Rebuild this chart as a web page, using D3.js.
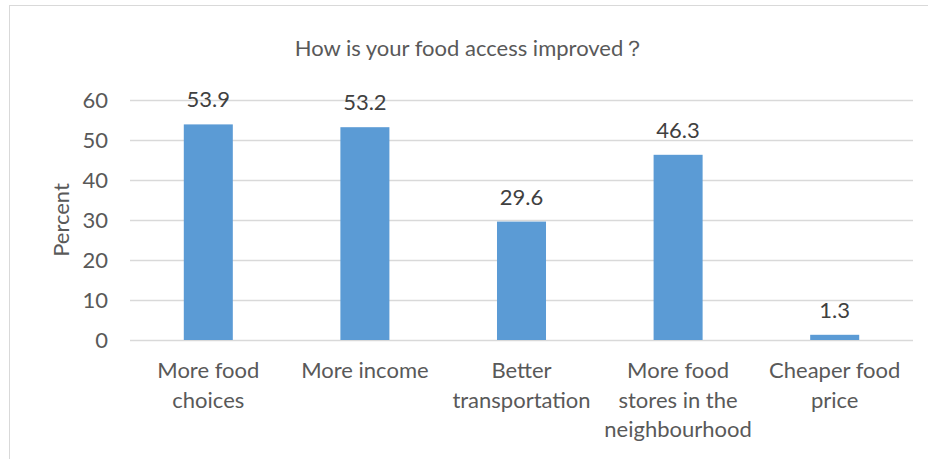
<!DOCTYPE html>
<html>
<head>
<meta charset="utf-8">
<script src="https://cdn.jsdelivr.net/npm/d3@7"></script>
<style>
  html, body { margin: 0; padding: 0; background: #fff; }
  svg { display: block; font-family: Lato, "Open Sans", sans-serif; }
</style>
</head>
<body>
<svg id="chart" width="928" height="459"></svg>
<script>
// Survey responses: how food access has improved
const categories = [
  ["More food", "choices"],
  ["More income"],
  ["Better", "transportation"],
  ["More food", "stores in the", "neighbourhood"],
  ["Cheaper food", "price"]
];
const values = [53.9, 53.2, 29.6, 46.3, 1.3];
const yTicks = [0, 10, 20, 30, 40, 50, 60];
const title = "How is your food access improved\uFF1F";
const yTitle = "Percent";

const FS = 22;
const svg = d3.select("#chart");
const W = 928, H = 459;
const plot = { left: 130, right: 913, top: 100, bottom: 340 };

// Chart frame
svg.append("rect")
  .attr("x", 9.5).attr("y", 5.5)
  .attr("width", W + 20).attr("height", H + 20)
  .attr("fill", "#fff").attr("stroke", "#d9d9d9").attr("stroke-width", 1);

const keys = categories.map((d, i) => i);
const x = d3.scaleBand().domain(keys).range([plot.left, plot.right]).paddingInner(0.687).paddingOuter(0.3435);
const y = d3.scaleLinear().domain([0, 60]).range([plot.bottom, plot.top]);

// Gridlines
svg.append("g").selectAll("line").data(yTicks).join("line")
  .attr("x1", plot.left).attr("x2", plot.right)
  .attr("y1", d => Math.round(y(d)) + 0.5).attr("y2", d => Math.round(y(d)) + 0.5)
  .attr("stroke", "#d9d9d9").attr("stroke-width", 1.3);

// Y axis labels
const yAxis = d3.axisLeft(y).tickValues(yTicks).tickSize(0).tickPadding(0);
const yg = svg.append("g").attr("transform", `translate(${plot.left - 22},0)`).call(yAxis);
yg.select(".domain").remove();
yg.selectAll("text")
  .attr("font-family", "Lato, 'Open Sans', sans-serif")
  .attr("font-size", FS).attr("fill", "#595959").attr("dy", "0.36em");

// Bars
svg.append("g").selectAll("rect").data(values).join("rect")
  .attr("x", (d, i) => x(i))
  .attr("width", x.bandwidth())
  .attr("y", d => y(d))
  .attr("height", d => y(0) - y(d))
  .attr("fill", "#5b9bd5");

// Value labels
svg.append("g").selectAll("text").data(values).join("text")
  .attr("x", (d, i) => x(i) + x.bandwidth() / 2)
  .attr("y", d => y(d) - 17)
  .attr("text-anchor", "middle")
  .attr("font-size", FS).attr("fill", "#404040")
  .text(d => d.toFixed(1));

// Category labels
const xg = svg.append("g");
categories.forEach((lines, i) => {
  const t = xg.append("text")
    .attr("x", x(i) + x.bandwidth() / 2)
    .attr("y", 378)
    .attr("text-anchor", "middle")
    .attr("font-size", FS).attr("fill", "#595959");
  lines.forEach((s, j) => {
    t.append("tspan").attr("x", x(i) + x.bandwidth() / 2).attr("dy", j === 0 ? 0 : 29.5).text(s);
  });
});

// Title
svg.append("text")
  .attr("x", 470).attr("y", 56)
  .attr("text-anchor", "middle")
  .attr("font-size", FS).attr("fill", "#595959")
  .text(title);

// Y axis title
svg.append("text")
  .attr("transform", `translate(69,${(plot.top + plot.bottom) / 2}) rotate(-90)`)
  .attr("text-anchor", "middle")
  .attr("font-size", FS).attr("fill", "#595959")
  .text(yTitle);
</script>
</body>
</html>
